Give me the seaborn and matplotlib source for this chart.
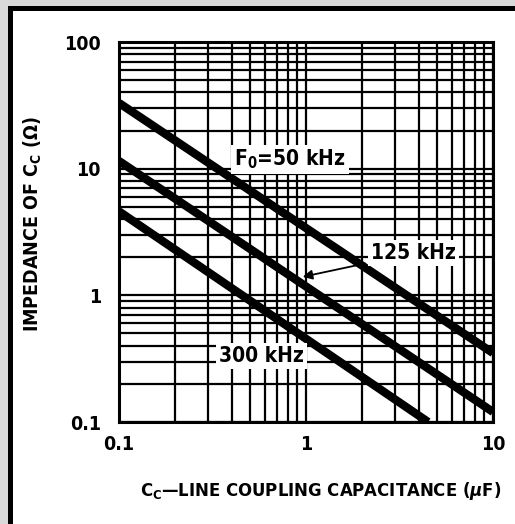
import pandas as pd
import matplotlib
matplotlib.use("Agg")
import matplotlib.pyplot as plt
from matplotlib import font_manager
from matplotlib.patches import Rectangle
from matplotlib.ticker import FixedLocator, FixedFormatter, NullFormatter
import seaborn as sns

# values (log-log, straight lines)
freqs = ["50 kHz", "125 kHz", "300 kHz"]
cap_50 = [0.1, 10]
imp_50 = [33, 0.35]
cap_125 = [0.1, 10]
imp_125 = [11.5, 0.12]
cap_300 = [0.1, 4.5]
imp_300 = [4.6, 0.1]

x_ticks = [0.1, 1, 10]
x_labels = ["0.1", "1", "10"]
y_ticks = [0.1, 1, 10, 100]
y_labels = ["0.1", "1", "10", "100"]

df = pd.concat([
    pd.DataFrame({"C": cap_50, "Z": imp_50, "f": freqs[0]}),
    pd.DataFrame({"C": cap_125, "Z": imp_125, "f": freqs[1]}),
    pd.DataFrame({"C": cap_300, "Z": imp_300, "f": freqs[2]}),
])

# look for a narrow / condensed face, otherwise use Liberation Sans
narrow = [f for f in font_manager.fontManager.ttflist
          if "Narrow" in f.name or f.stretch == "condensed" or "Condensed" in f.name]
fam = narrow[0].name if narrow else "Liberation Sans"
stretch = "condensed" if narrow else "normal"

sns.set_style("white")
plt.rcParams['font.family'] = [fam, 'DejaVu Sans']
plt.rcParams['font.stretch'] = stretch
plt.rcParams['font.weight'] = 'bold'
plt.rcParams['text.color'] = 'black'
plt.rcParams['xtick.color'] = 'black'
plt.rcParams['ytick.color'] = 'black'
plt.rcParams['axes.labelcolor'] = 'black'
plt.rcParams['mathtext.fontset'] = 'custom'
plt.rcParams['mathtext.rm'] = fam + ':bold'
plt.rcParams['mathtext.it'] = fam + ':italic:bold'
plt.rcParams['mathtext.bf'] = fam + ':bold'

fs = 15 if narrow else 13

fig = plt.figure(figsize=(5.15, 5.24), dpi=100)
ax = fig.add_axes([119/515, 1 - 422/524, 374/515, 380/524])

sns.lineplot(data=df, x="C", y="Z", hue="f", palette=["black"] * 3,
             lw=6, legend=False, ax=ax, zorder=3, solid_capstyle="butt")

ax.set_xscale("log")
ax.set_yscale("log")
ax.set_xlim(0.1, 10)
ax.set_ylim(0.1, 100)

ax.xaxis.set_major_locator(FixedLocator(x_ticks))
ax.xaxis.set_major_formatter(FixedFormatter(x_labels))
ax.yaxis.set_major_locator(FixedLocator(y_ticks))
ax.yaxis.set_major_formatter(FixedFormatter(y_labels))
ax.xaxis.set_minor_formatter(NullFormatter())
ax.yaxis.set_minor_formatter(NullFormatter())
ax.grid(True, which="both", color="black", lw=1.6)
ax.tick_params(which="both", length=0, labelsize=fs - 1)
ax.tick_params(axis="x", pad=9)
ax.tick_params(axis="y", pad=13)
for s in ax.spines.values():
    s.set_color("black")
    s.set_linewidth(2.2)

ax.set_xlabel(r"C$_\mathregular{C}$—LINE COUPLING CAPACITANCE ($\mu$F)",
              fontsize=fs - 1.8, fontweight="bold")
ax.xaxis.set_label_coords(0.54, -0.152)
ax.set_ylabel(r"IMPEDANCE OF C$_\mathregular{C}$ ($\Omega$)",
              fontsize=fs - 1, fontweight="bold")
ax.yaxis.set_label_coords(-0.2, 0.52)

box = dict(boxstyle="square,pad=0.15", fc="white", ec="none")
ax.text(0.82, 11.8, r"F$_\mathregular{0}$=50 kHz", fontsize=fs, fontweight="bold",
        ha="center", va="center", bbox=box, zorder=5)
ax.annotate("125 kHz", xy=(0.96, 1.4), xytext=(3.75, 2.15), fontsize=fs,
            fontweight="bold", ha="center", va="center", bbox=box, zorder=5,
            arrowprops=dict(arrowstyle="-|>", color="black", lw=1.3,
                            mutation_scale=14, shrinkA=2, shrinkB=0))
ax.text(0.58, 0.33, "300 kHz", fontsize=fs, fontweight="bold",
        ha="center", va="center", bbox=box, zorder=5)

# scanned page edge: gray margin with thick black rule
fig.add_artist(Rectangle((0, 1 - 6/524), 1, 6/524, transform=fig.transFigure,
                         fc="#d9d9d9", ec="none"))
fig.add_artist(Rectangle((0, 0), 8/515, 1, transform=fig.transFigure,
                         fc="#d9d9d9", ec="none"))
fig.add_artist(Rectangle((8/515, 1 - 11/524), 1, 5/524, transform=fig.transFigure,
                         fc="black", ec="none"))
fig.add_artist(Rectangle((8/515, 0), 5/515, 1 - 6/524, transform=fig.transFigure,
                         fc="black", ec="none"))

fig.savefig("out.png", dpi=100)
